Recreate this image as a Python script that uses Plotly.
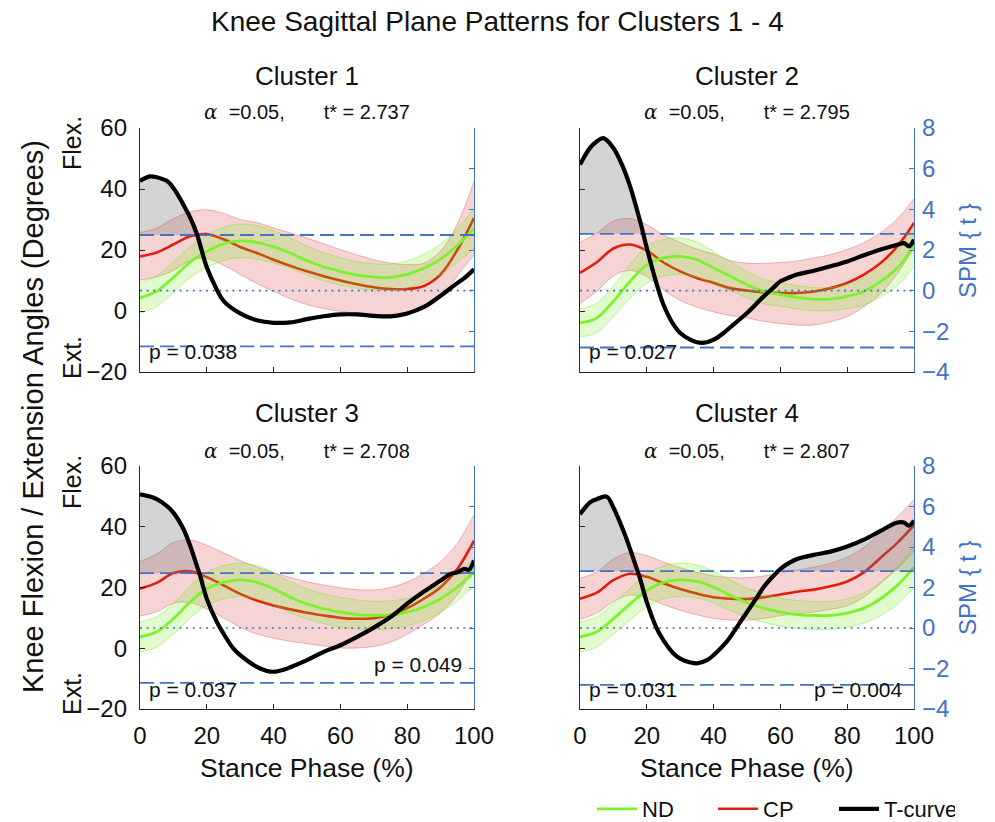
import plotly.graph_objects as go

W, H = 995, 822
FONT = "Liberation Sans, Arial, sans-serif"
BLUE = "#4472C4"
GREEN = "#7CF22C"
RED = "#E01E0E"

# ---------------- data ----------------
STANCE = list(range(0, 101, 5))
X_TICKS = [0, 20, 40, 60, 80, 100]
ANGLE_TICKS = [-20, 0, 20, 40, 60]
T_TICKS = [-4, -2, 0, 2, 4, 6, 8]
ANGLE_RANGE = [-20, 60]
T_RANGE = [-4, 8]
CLUSTER_NAMES = ["Cluster 1", "Cluster 2", "Cluster 3", "Cluster 4"]
ALPHA = 0.05
T_STAR = [2.737, 2.795, 2.708, 2.807]

ND_MEAN_C1 = [4.3, 6.5, 11.0, 16.0, 19.5, 22.0, 23.0, 22.5, 21.0, 19.0, 16.5, 14.5, 13.0, 11.8, 11.2, 11.0, 12.0, 14.0, 17.0, 21.5, 27.0]
ND_SD_C1 = [5.0, 5.0, 5.0, 5.0, 5.2, 5.5, 5.5, 5.5, 5.3, 5.0, 4.8, 4.6, 4.5, 4.4, 4.3, 4.3, 4.4, 4.6, 5.0, 5.5, 6.5]
CP_MEAN_C1 = [17.9, 19.2, 21.8, 24.5, 25.2, 23.5, 21.0, 19.0, 16.8, 14.8, 13.0, 11.4, 10.0, 8.8, 7.8, 7.2, 7.2, 8.2, 12.0, 20.0, 30.5]
CP_SD_C1 = [7.8, 8.0, 8.5, 8.0, 8.0, 8.5, 9.0, 10.0, 10.4, 10.8, 10.9, 10.6, 10.1, 9.6, 9.0, 8.5, 8.0, 7.5, 7.7, 8.5, 12.0]
T_X_C1 = [0, 3, 5, 8, 10, 13, 15, 17, 20, 23, 25, 30, 35, 40, 45, 50, 55, 60, 65, 70, 75, 80, 85, 90, 95, 97, 100]
T_C1 = [5.4, 5.62, 5.58, 5.4, 5.05, 4.23, 3.6, 2.8, 1.15, 0.05, -0.5, -1.12, -1.46, -1.58, -1.56, -1.4, -1.26, -1.17, -1.17, -1.24, -1.26, -1.12, -0.8, -0.25, 0.37, 0.6, 1.05]

ND_MEAN_C2 = [-3.9, -2.3, 3.2, 9.7, 15.2, 17.4, 17.9, 16.8, 14.1, 11.4, 8.6, 6.4, 5.4, 4.5, 3.9, 3.9, 4.8, 6.4, 9.7, 14.1, 21.2]
ND_SD_C2 = [4.6, 4.8, 5.0, 5.5, 6.0, 6.0, 6.0, 5.8, 5.3, 4.8, 4.3, 4.0, 3.8, 3.8, 3.8, 3.8, 4.0, 4.5, 5.0, 5.8, 6.5]
CP_MEAN_C2 = [12.5, 16.0, 20.5, 21.8, 19.8, 15.9, 13.0, 10.8, 9.2, 7.5, 6.7, 6.1, 5.9, 5.9, 6.4, 7.5, 9.2, 11.9, 15.7, 21.2, 28.9]
CP_SD_C2 = [10.0, 9.5, 9.0, 8.5, 8.5, 9.0, 9.5, 9.5, 9.5, 9.0, 9.0, 9.5, 10.0, 10.5, 11.0, 11.0, 11.0, 10.5, 10.0, 9.0, 8.0]
T_X_C2 = [0, 3, 5, 7, 10, 13, 15, 18, 20, 23, 25, 28, 30, 33, 35, 38, 40, 43, 45, 50, 55, 58, 60, 63, 65, 70, 75, 80, 85, 90, 95, 97, 98.5, 100]
T_C2 = [6.2, 7.02, 7.34, 7.5, 7.02, 6.03, 5.13, 3.41, 2.1, 0.3, -0.69, -1.67, -2.08, -2.41, -2.54, -2.54, -2.41, -2.08, -1.8, -1.1, -0.28, 0.16, 0.46, 0.67, 0.79, 0.98, 1.2, 1.44, 1.74, 2.02, 2.26, 2.34, 2.18, 2.51]

ND_MEAN_C3 = [3.7, 5.4, 9.7, 15.2, 19.6, 21.7, 22.5, 21.7, 19.6, 16.8, 14.6, 13.0, 11.9, 11.1, 10.8, 11.0, 11.9, 13.6, 16.3, 20.1, 25.0]
ND_SD_C3 = [4.9, 5.0, 5.0, 5.2, 5.4, 5.5, 5.5, 5.5, 5.3, 5.1, 5.0, 4.9, 4.9, 4.8, 4.7, 4.6, 4.5, 4.5, 4.5, 4.5, 4.5]
CP_MEAN_C3 = [19.6, 21.5, 24.8, 25.3, 23.4, 20.7, 17.9, 15.7, 14.1, 12.8, 11.7, 10.8, 10.0, 9.7, 9.9, 11.0, 13.2, 16.3, 20.1, 26.1, 35.4]
CP_SD_C3 = [9.0, 9.5, 10.0, 10.3, 10.5, 10.7, 11.0, 11.0, 10.8, 10.5, 10.2, 10.0, 9.9, 9.6, 9.3, 9.0, 8.6, 8.4, 8.4, 8.5, 8.5]
T_X_C3 = [0, 3, 5, 8, 10, 13, 15, 17, 18, 20, 23, 25, 28, 30, 35, 38, 40, 43, 45, 50, 55, 60, 65, 70, 75, 80, 85, 90, 93, 95, 97, 98.5, 100]
T_C3 = [6.6, 6.49, 6.36, 6.03, 5.7, 4.89, 4.07, 3.08, 2.59, 1.44, 0.3, -0.28, -1.02, -1.34, -1.92, -2.12, -2.16, -2.06, -1.94, -1.59, -1.18, -0.85, -0.44, 0.02, 0.54, 1.2, 1.8, 2.34, 2.67, 2.75, 2.92, 2.88, 3.33]

ND_MEAN_C4 = [3.7, 5.4, 9.7, 14.6, 19.0, 21.7, 22.5, 22.0, 20.1, 17.4, 15.0, 13.2, 11.9, 11.1, 10.8, 10.8, 11.6, 13.2, 16.3, 20.7, 26.7]
ND_SD_C4 = [4.9, 5.0, 5.0, 5.2, 5.4, 5.5, 5.5, 5.4, 5.2, 5.0, 4.8, 4.7, 4.6, 4.6, 4.6, 4.6, 4.7, 5.0, 5.5, 6.2, 6.8]
CP_MEAN_C4 = [16.3, 18.3, 22.4, 24.5, 23.5, 21.4, 19.5, 18.0, 16.8, 16.3, 16.2, 16.8, 17.7, 18.6, 19.3, 20.4, 22.0, 25.0, 29.8, 34.7, 40.5]
CP_SD_C4 = [6.7, 6.8, 7.0, 7.0, 7.0, 7.0, 7.0, 7.0, 7.0, 7.0, 7.0, 7.0, 7.0, 7.2, 7.4, 7.6, 8.0, 8.2, 8.4, 8.5, 8.5]
T_X_C4 = [0, 3, 5, 8, 10, 13, 15, 17, 18, 20, 23, 25, 28, 30, 33, 35, 38, 40, 43, 45, 48, 50, 53, 55, 58, 60, 63, 65, 70, 75, 80, 85, 90, 95, 97, 98.5, 100]
T_C4 = [5.62, 6.2, 6.36, 6.49, 5.95, 4.8, 3.9, 2.92, 2.43, 1.28, -0.03, -0.61, -1.26, -1.51, -1.7, -1.75, -1.59, -1.34, -0.85, -0.44, 0.3, 0.79, 1.52, 2.02, 2.59, 2.92, 3.25, 3.41, 3.61, 3.77, 4.02, 4.36, 4.8, 5.21, 5.21, 5.05, 5.3]

P_LEFT = ["p = 0.038", "p = 0.027", "p = 0.037", "p = 0.031"]
P_RIGHT = [None, None, "p = 0.049", "p = 0.004"]

ND_MEANS = [ND_MEAN_C1, ND_MEAN_C2, ND_MEAN_C3, ND_MEAN_C4]
ND_SDS = [ND_SD_C1, ND_SD_C2, ND_SD_C3, ND_SD_C4]
CP_MEANS = [CP_MEAN_C1, CP_MEAN_C2, CP_MEAN_C3, CP_MEAN_C4]
CP_SDS = [CP_SD_C1, CP_SD_C2, CP_SD_C3, CP_SD_C4]
T_XS = [T_X_C1, T_X_C2, T_X_C3, T_X_C4]
T_VALS = [T_C1, T_C2, T_C3, T_C4]

# ---------------- layout geometry (pixels) ----------------
PANELS = [(140, 474, 128, 372), (580, 914, 128, 372), (140, 474, 466, 709), (580, 914, 466, 709)]


def px(x):
    return x / W


def py(y):
    return 1 - y / H


def supra_regions(xs, ts, thr):
    """Split the t-curve into the runs where it exceeds the threshold."""
    regions, cur = [], None
    for i, (x, t) in enumerate(zip(xs, ts)):
        if t > thr:
            if cur is None:
                if i == 0:
                    cur = ([x], [t])
                else:
                    x0, t0 = xs[i - 1], ts[i - 1]
                    xc = x0 + (thr - t0) * (x - x0) / (t - t0)
                    cur = ([xc, x], [thr, t])
            else:
                cur[0].append(x)
                cur[1].append(t)
        else:
            if cur is not None:
                x0, t0 = xs[i - 1], ts[i - 1]
                xc = x0 + (thr - t0) * (x - x0) / (t - t0)
                cur[0].append(xc)
                cur[1].append(thr)
                regions.append(cur)
                cur = None
    if cur is not None:
        regions.append(cur)
    return regions


fig = go.Figure()

for k in range(4):
    n = k + 1
    xa = "x" if n == 1 else f"x{n}"
    ya = "y" if n == 1 else f"y{n}"
    yt = f"y{n + 4}"
    leg = (k == 0)

    # CP band + mean
    cp_lo = [m - s for m, s in zip(CP_MEANS[k], CP_SDS[k])]
    cp_hi = [m + s for m, s in zip(CP_MEANS[k], CP_SDS[k])]
    fig.add_trace(go.Scatter(x=STANCE, y=cp_lo, xaxis=xa, yaxis=ya, mode="lines",
                             line=dict(color="rgba(215,60,60,0.45)", width=0.8, shape="spline"),
                             showlegend=False, hoverinfo="skip"))
    fig.add_trace(go.Scatter(x=STANCE, y=cp_hi, xaxis=xa, yaxis=ya, mode="lines", fill="tonexty",
                             fillcolor="rgba(215,40,40,0.2)",
                             line=dict(color="rgba(215,60,60,0.45)", width=0.8, shape="spline"),
                             showlegend=False, hoverinfo="skip"))
    fig.add_trace(go.Scatter(x=STANCE, y=CP_MEANS[k], xaxis=xa, yaxis=ya, mode="lines",
                             line=dict(color=RED, width=2.6, shape="spline"),
                             name="CP", showlegend=leg, legendrank=2))
    # ND band + mean
    nd_lo = [m - s for m, s in zip(ND_MEANS[k], ND_SDS[k])]
    nd_hi = [m + s for m, s in zip(ND_MEANS[k], ND_SDS[k])]
    fig.add_trace(go.Scatter(x=STANCE, y=nd_lo, xaxis=xa, yaxis=ya, mode="lines",
                             line=dict(color="rgba(110,225,40,0.5)", width=0.8, shape="spline"),
                             showlegend=False, hoverinfo="skip"))
    fig.add_trace(go.Scatter(x=STANCE, y=nd_hi, xaxis=xa, yaxis=ya, mode="lines", fill="tonexty",
                             fillcolor="rgba(120,235,30,0.22)",
                             line=dict(color="rgba(110,225,40,0.5)", width=0.8, shape="spline"),
                             showlegend=False, hoverinfo="skip"))
    fig.add_trace(go.Scatter(x=STANCE, y=ND_MEANS[k], xaxis=xa, yaxis=ya, mode="lines",
                             line=dict(color=GREEN, width=2.8, shape="spline"),
                             name="ND", showlegend=leg, legendrank=1))

    # supra-threshold clusters (gray)
    thr = T_STAR[k]
    for rx, rt in supra_regions(T_XS[k], T_VALS[k], thr):
        fig.add_trace(go.Scatter(x=[rx[0], rx[-1]], y=[thr, thr], xaxis=xa, yaxis=yt, mode="lines",
                                 line=dict(width=0, color="rgba(0,0,0,0)"),
                                 showlegend=False, hoverinfo="skip"))
        fig.add_trace(go.Scatter(x=rx, y=rt, xaxis=xa, yaxis=yt, mode="lines", fill="tonexty",
                                 fillcolor="rgba(120,120,120,0.32)",
                                 line=dict(width=0, color="rgba(0,0,0,0)", shape="spline"),
                                 showlegend=False, hoverinfo="skip"))
    # reference lines
    fig.add_trace(go.Scatter(x=[X_TICKS[0], X_TICKS[-1]], y=[0, 0], xaxis=xa, yaxis=yt, mode="lines",
                             line=dict(color=BLUE, width=1.6, dash="2px,4.6px"),
                             showlegend=False, hoverinfo="skip"))
    for sgn in (1, -1):
        fig.add_trace(go.Scatter(x=[X_TICKS[0], X_TICKS[-1]], y=[sgn * thr, sgn * thr], xaxis=xa, yaxis=yt,
                                 mode="lines", line=dict(color=BLUE, width=1.8, dash="14px,6px"),
                                 showlegend=False, hoverinfo="skip"))
    # t-curve
    fig.add_trace(go.Scatter(x=T_XS[k], y=T_VALS[k], xaxis=xa, yaxis=yt, mode="lines",
                             line=dict(color="black", width=4.2, shape="spline"),
                             name="T-curve", showlegend=leg, legendrank=3))

layout = {}
annotations = []
for k in range(4):
    n = k + 1
    x0, x1, y0, y1 = PANELS[k]
    xname = "xaxis" if n == 1 else f"xaxis{n}"
    yname = "yaxis" if n == 1 else f"yaxis{n}"
    ya = "y" if n == 1 else f"y{n}"
    xa = "x" if n == 1 else f"x{n}"
    layout[xname] = dict(domain=[px(x0), px(x1)], anchor=ya, range=[0, 100], tickvals=X_TICKS,
                         ticks="inside", ticklen=5, tickwidth=1, tickcolor="#262626",
                         showline=True, linecolor="#262626", linewidth=1.3,
                         showgrid=False, zeroline=False, showticklabels=(k >= 2), automargin=False,
                         tickfont=dict(family=FONT, size=24, color="#111"), ticklabelstandoff=5)
    layout[yname] = dict(domain=[py(y1), py(y0)], anchor=xa, range=ANGLE_RANGE, tickvals=ANGLE_TICKS,
                         ticks="inside", ticklen=5, tickwidth=1, tickcolor="#262626",
                         showline=True, linecolor="#262626", linewidth=1.3,
                         showgrid=False, zeroline=False, showticklabels=(k in (0, 2)), automargin=False,
                         tickfont=dict(family=FONT, size=24, color="#111"), ticklabelstandoff=7)
    layout[f"yaxis{n + 4}"] = dict(overlaying=ya, anchor=xa, side="right", range=T_RANGE, tickvals=T_TICKS,
                                   ticks="inside", ticklen=5, tickwidth=1, tickcolor=BLUE,
                                   showline=True, linecolor=BLUE, linewidth=1.3, automargin=False,
                                   showgrid=False, zeroline=False, showticklabels=(k in (1, 3)),
                                   tickfont=dict(family=FONT, size=24, color=BLUE), ticklabelstandoff=2)
    cx = (x0 + x1) / 2
    title_y = 76 if k < 2 else 413
    sub_y = 112 if k < 2 else 451
    annotations.append(dict(text=CLUSTER_NAMES[k], x=px(cx), y=py(title_y), xref="paper", yref="paper",
                            showarrow=False, font=dict(family=FONT, size=26, color="#111"),
                            xanchor="center", yanchor="middle"))
    sub = ("<span style=\"font-family:'DejaVu Serif';font-style:italic\">\u03b1</span>"
           + "\u00a0\u00a0=" + f"{ALPHA:.2f}," + "\u00a0" * 7 + f"t* = {T_STAR[k]:.3f}")
    annotations.append(dict(text=sub, x=px(cx), y=py(sub_y), xref="paper", yref="paper",
                            showarrow=False, font=dict(family=FONT, size=20, color="#111"),
                            xanchor="center", yanchor="middle"))
    p_y = 351 if k < 2 else 689
    annotations.append(dict(text=P_LEFT[k], x=px(x0 + 7), y=py(p_y), xref="paper", yref="paper",
                            showarrow=False, font=dict(family=FONT, size=21, color="#111"),
                            xanchor="left", yanchor="middle"))
    if P_RIGHT[k]:
        pr_y = 664 if k == 2 else 689
        annotations.append(dict(text=P_RIGHT[k], x=px(x1 - 10), y=py(pr_y), xref="paper", yref="paper",
                                showarrow=False, font=dict(family=FONT, size=21, color="#111"),
                                xanchor="right", yanchor="middle"))
    if k in (0, 2):
        annotations.append(dict(text="Flex.", x=px(72), y=py(143 if k == 0 else 482), xref="paper",
                                yref="paper", showarrow=False, textangle=-90,
                                font=dict(family=FONT, size=25, color="#111"),
                                xanchor="center", yanchor="middle"))
        annotations.append(dict(text="Ext.", x=px(72), y=py(358 if k == 0 else 694), xref="paper",
                                yref="paper", showarrow=False, textangle=-90,
                                font=dict(family=FONT, size=25, color="#111"),
                                xanchor="center", yanchor="middle"))
    else:
        annotations.append(dict(text="SPM { t }", x=px(967), y=py(251 if k == 1 else 588), xref="paper",
                                yref="paper", showarrow=False, textangle=-90,
                                font=dict(family=FONT, size=24, color=BLUE),
                                xanchor="center", yanchor="middle"))
    if k >= 2:
        annotations.append(dict(text="Stance Phase (%)", x=px(cx), y=py(768), xref="paper", yref="paper",
                                showarrow=False, font=dict(family=FONT, size=26.5, color="#111"),
                                xanchor="center", yanchor="middle"))

annotations.append(dict(text="Knee Sagittal Plane Patterns for Clusters 1 - 4", x=px(497), y=py(22),
                        xref="paper", yref="paper", showarrow=False,
                        font=dict(family=FONT, size=28, color="#111"), xanchor="center", yanchor="middle"))
annotations.append(dict(text="Knee Flexion / Extension Angles (Degrees)", x=px(33), y=py(417),
                        xref="paper", yref="paper", showarrow=False, textangle=-90,
                        font=dict(family=FONT, size=29, color="#111"), xanchor="center", yanchor="middle"))

fig.update_layout(**layout)
fig.update_layout(
    width=W, height=H, margin=dict(l=0, r=0, t=0, b=0, autoexpand=False),
    paper_bgcolor="white", plot_bgcolor="white",
    annotations=annotations,
    showlegend=True,
    legend=dict(orientation="h", x=px(592), y=py(809), xanchor="left", yanchor="middle",
                traceorder="normal",
                font=dict(family=FONT, size=22, color="#111"), bgcolor="rgba(0,0,0,0)",
                entrywidth=66, entrywidthmode="pixels", itemwidth=40),
    hovermode=False,
)

fig.write_html("out.html", config={"displayModeBar": False},
               post_script="document.body.style.margin='0';document.body.style.overflow='hidden';")
